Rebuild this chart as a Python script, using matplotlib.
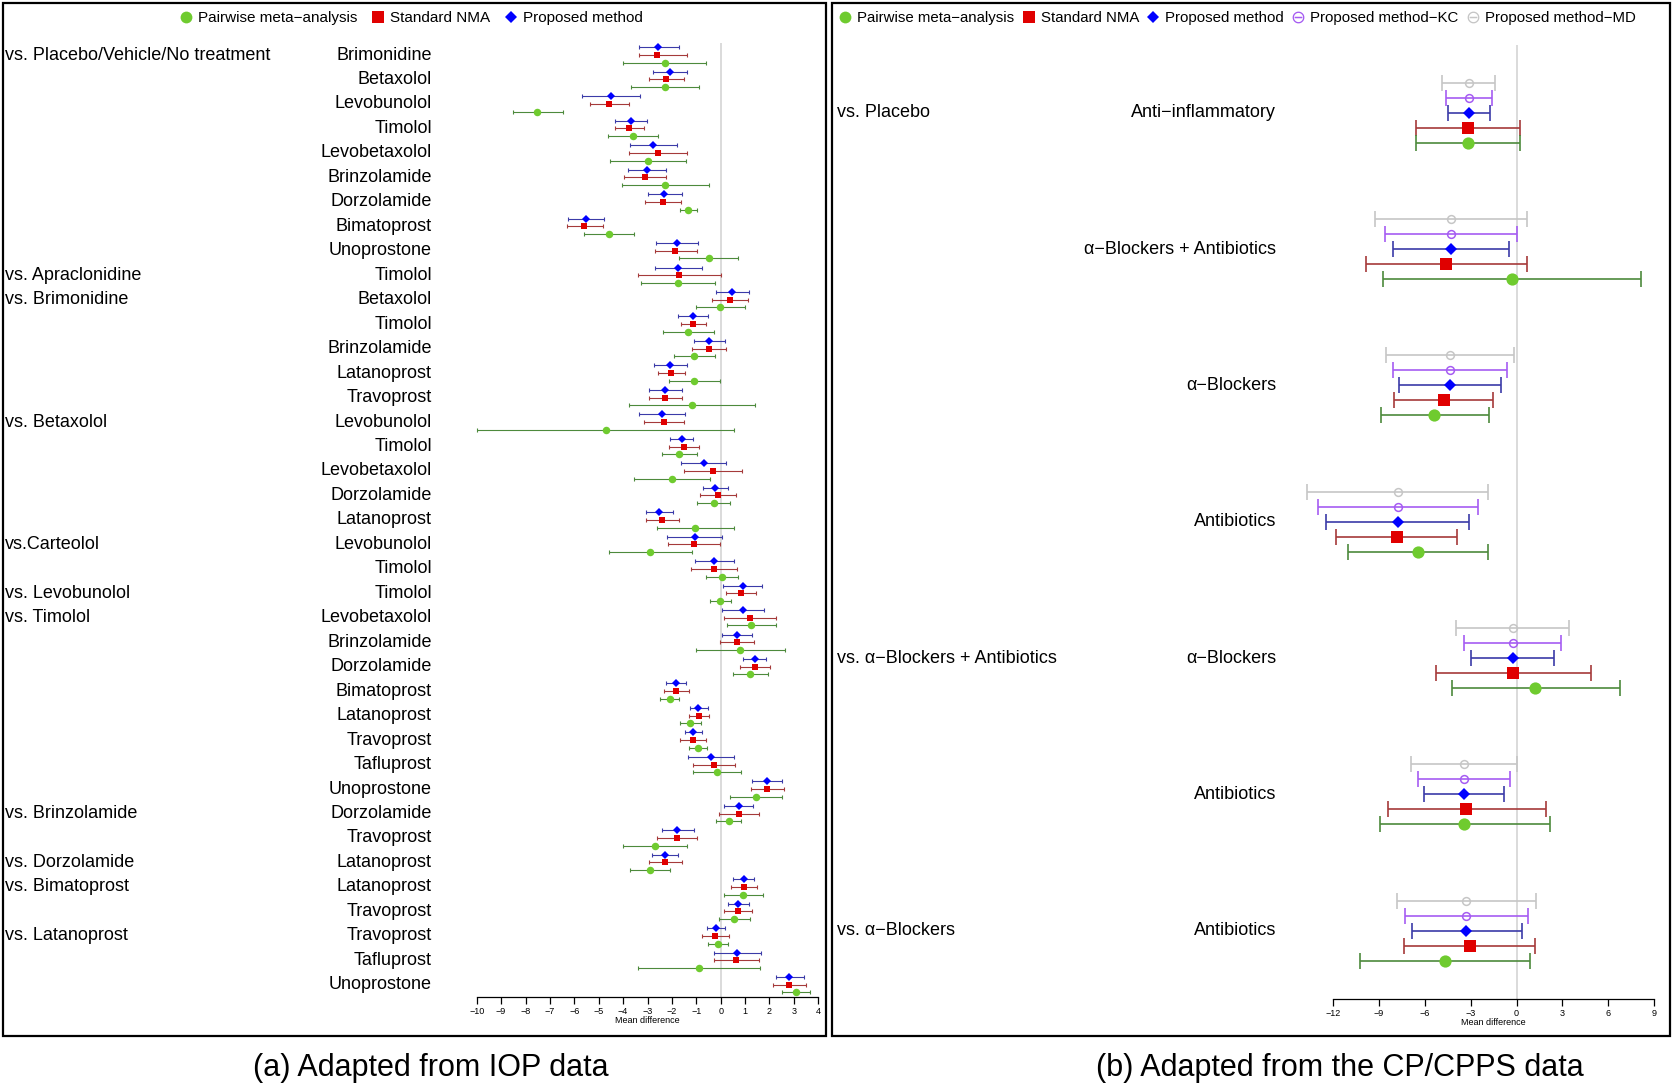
import matplotlib
matplotlib.use("Agg")
import matplotlib.pyplot as plt
from matplotlib.lines import Line2D
from matplotlib.patches import Rectangle
import matplotlib.transforms as mtrans

plt.rcParams['font.family'] = ['Liberation Sans', 'DejaVu Sans']

# ---------------- Panel (a): IOP data ----------------
iop_groups = [
    (0, "vs. Placebo/Vehicle/No treatment"), (9, "vs. Apraclonidine"),
    (10, "vs. Brimonidine"), (15, "vs. Betaxolol"), (20, "vs.Carteolol"),
    (22, "vs. Levobunolol"), (23, "vs. Timolol"), (31, "vs. Brinzolamide"),
    (33, "vs. Dorzolamide"), (34, "vs. Bimatoprost"), (36, "vs. Latanoprost"),
]
iop_treat = [
    "Brimonidine", "Betaxolol", "Levobunolol", "Timolol", "Levobetaxolol",
    "Brinzolamide", "Dorzolamide", "Bimatoprost", "Unoprostone",
    "Timolol",
    "Betaxolol", "Timolol", "Brinzolamide", "Latanoprost", "Travoprost",
    "Levobunolol", "Timolol", "Levobetaxolol", "Dorzolamide", "Latanoprost",
    "Levobunolol", "Timolol",
    "Timolol",
    "Levobetaxolol", "Brinzolamide", "Dorzolamide", "Bimatoprost", "Latanoprost",
    "Travoprost", "Tafluprost", "Unoprostone",
    "Dorzolamide", "Travoprost",
    "Latanoprost",
    "Latanoprost", "Travoprost",
    "Travoprost", "Tafluprost", "Unoprostone",
]
# Proposed method (estimate, lower, upper)
iop_prop = [
    (-2.55, -3.36, -1.72), (-2.09, -2.77, -1.38), (-4.49, -5.68, -3.29), (-3.69, -4.34, -3.01),
    (-2.76, -3.72, -1.79), (-3.02, -3.80, -2.23), (-2.31, -2.99, -1.58), (-5.52, -6.24, -4.80),
    (-1.80, -2.65, -0.91), (-1.73, -2.68, -0.75), (0.48, -0.19, 1.17), (-1.13, -1.75, -0.52),
    (-0.46, -1.09, 0.16), (-2.06, -2.72, -1.39), (-2.27, -2.93, -1.58), (-2.42, -3.36, -1.46),
    (-1.60, -2.06, -1.12), (-0.70, -1.63, 0.23), (-0.23, -0.74, 0.30), (-2.53, -3.07, -1.97),
    (-1.07, -2.19, 0.05), (-0.26, -1.04, 0.55), (0.90, 0.11, 1.71), (0.90, 0.05, 1.76),
    (0.66, 0.05, 1.27), (1.39, 0.93, 1.86), (-1.84, -2.24, -1.43), (-0.92, -1.26, -0.53),
    (-1.12, -1.45, -0.75), (-0.40, -1.35, 0.56), (1.90, 1.27, 2.53), (0.74, 0.15, 1.33),
    (-1.78, -2.42, -1.11), (-2.28, -2.83, -1.75), (0.94, 0.52, 1.38), (0.72, 0.30, 1.16),
    (-0.20, -0.56, 0.19), (0.67, -0.29, 1.65), (2.81, 2.25, 3.42),
]
# Standard NMA
iop_nma = [
    (-2.62, -3.35, -1.39), (-2.25, -2.95, -1.50), (-4.58, -5.34, -3.77), (-3.76, -4.34, -3.14),
    (-2.57, -3.74, -1.39), (-3.10, -3.95, -2.24), (-2.36, -3.09, -1.63), (-5.60, -6.31, -4.84),
    (-1.86, -2.68, -0.98), (-1.69, -3.39, 0.00), (0.38, -0.34, 1.11), (-1.12, -1.64, -0.60),
    (-0.46, -1.17, 0.23), (-2.02, -2.57, -1.46), (-2.27, -2.94, -1.57), (-2.31, -3.13, -1.49),
    (-1.50, -2.10, -0.89), (-0.31, -1.49, 0.87), (-0.10, -0.85, 0.64), (-2.39, -3.06, -1.72),
    (-1.08, -2.14, -0.01), (-0.26, -1.20, 0.68), (0.82, 0.22, 1.45), (1.19, 0.14, 2.27),
    (0.66, -0.04, 1.37), (1.39, 0.81, 2.01), (-1.83, -2.34, -1.31), (-0.90, -1.28, -0.49),
    (-1.13, -1.65, -0.60), (-0.27, -1.13, 0.59), (1.91, 1.23, 2.61), (0.75, -0.05, 1.56),
    (-1.79, -2.60, -0.96), (-2.28, -2.95, -1.60), (0.94, 0.41, 1.49), (0.70, 0.15, 1.27),
    (-0.23, -0.78, 0.33), (0.63, -0.29, 1.57), (2.81, 2.13, 3.51),
]
# Pairwise meta-analysis
iop_pair = [
    (-2.30, -4.00, -0.59), (-2.27, -3.66, -0.89), (-7.51, -8.52, -6.46), (-3.61, -4.63, -2.55),
    (-2.99, -4.54, -1.43), (-2.27, -4.04, -0.49), (-1.33, -1.68, -0.97), (-4.59, -5.60, -3.57),
    (-0.48, -1.69, 0.72), (-1.76, -3.28, -0.23), (-0.03, -1.02, 0.98), (-1.33, -2.38, -0.26),
    (-1.08, -1.93, -0.23), (-1.08, -2.12, -0.01), (-1.19, -3.77, 1.41), (-4.71, -10.0, 0.56),
    (-1.71, -2.42, -0.96), (-1.98, -3.55, -0.44), (-0.29, -0.97, 0.40), (-1.04, -2.62, 0.53),
    (-2.90, -4.56, -1.19), (0.04, -0.60, 0.70), (-0.03, -0.44, 0.42), (1.26, 0.26, 2.27),
    (0.79, -1.02, 2.64), (1.20, 0.51, 1.93), (-2.09, -2.49, -1.69), (-1.24, -1.68, -0.82),
    (-0.93, -1.30, -0.55), (-0.15, -1.13, 0.83), (1.43, 0.38, 2.50), (0.33, -0.19, 0.83),
    (-2.69, -4.00, -1.38), (-2.90, -3.72, -2.06), (0.93, 0.12, 1.73), (0.53, -0.08, 1.19),
    (-0.10, -0.51, 0.31), (-0.90, -3.39, 1.63), (3.07, 2.51, 3.65),
]
iop_ticks = list(range(-10, 5))

# ---------------- Panel (b): CP/CPPS data ----------------
cp_groups = [(0, "vs. Placebo"), (4, "vs. \u03b1\u2212Blockers + Antibiotics"), (6, "vs. \u03b1\u2212Blockers")]
cp_treat = ["Anti\u2212inflammatory", "\u03b1\u2212Blockers + Antibiotics", "\u03b1\u2212Blockers",
            "Antibiotics", "\u03b1\u2212Blockers", "Antibiotics", "Antibiotics"]
cp_md = [(-3.12, -4.85, -1.40), (-4.30, -9.26, 0.68), (-4.34, -8.52, -0.17), (-7.79, -13.69, -1.86),
         (-0.26, -3.97, 3.45), (-3.45, -6.92, 0.02), (-3.28, -7.82, 1.29)]
cp_kc = [(-3.12, -4.65, -1.59), (-4.30, -8.62, 0.04), (-4.34, -8.08, -0.61), (-7.79, -13.01, -2.51),
         (-0.26, -3.45, 2.93), (-3.45, -6.48, -0.41), (-3.28, -7.31, 0.76)]
cp_prop = [(-3.12, -4.50, -1.75), (-4.30, -8.10, -0.48), (-4.34, -7.69, -1.00), (-7.79, -12.45, -3.10),
           (-0.26, -2.99, 2.47), (-3.45, -6.09, -0.81), (-3.28, -6.83, 0.33)]
cp_nma = [(-3.17, -6.57, 0.24), (-4.61, -9.85, 0.68), (-4.78, -8.01, -1.51), (-7.86, -11.81, -3.89),
          (-0.22, -5.26, 4.89), (-3.28, -8.45, 1.92), (-3.08, -7.34, 1.18)]
cp_pair = [(-3.17, -6.57, 0.24), (-0.31, -8.76, 8.14), (-5.39, -8.89, -1.83), (-6.44, -11.03, -1.86),
           (1.24, -4.24, 6.75), (-3.41, -8.97, 2.16), (-4.69, -10.24, 0.87)]
cp_ticks = [-12, -9, -6, -3, 0, 3, 6, 9]

# ---------------- styles ----------------
GREEN, GREEN_BAR = '#6fcb2f', '#4d8a3c'
RED, RED_BAR = '#e00000', '#a53a3a'
BLUE, BLUE_BAR = '#0000ff', '#3b3ba8'
KC = '#a65cf2'
MD = '#c6c6c6'

W, H = 1675, 1092
fig = plt.figure(figsize=(W / 100, H / 100), dpi=100)


def px_axes(x0, x1, y0, y1):
    return fig.add_axes([x0 / W, 1 - y1 / H, (x1 - x0) / W, (y1 - y0) / H])


def draw_series(ax, data, yoff, mcolor, bcolor, marker, ms, capsize, lw, mfc=None, mew=0.0):
    for i, (est, lo, hi) in enumerate(data):
        y = i + yoff
        ax.errorbar([est], [y], xerr=[[est - lo], [hi - est]], fmt='none', ecolor=bcolor,
                    elinewidth=lw, capsize=capsize, capthick=lw, clip_on=False, zorder=2)
        ax.plot([est], [y], marker=marker, ms=ms, color=mcolor,
                mfc=mfc if mfc is not None else mcolor, mec=mcolor, mew=mew,
                linestyle='none', clip_on=False, zorder=3)


def style_axis(ax, ticks, xlim, ylim):
    ax.set_xlim(*xlim)
    ax.set_ylim(*ylim)
    for s in ['top', 'right', 'left']:
        ax.spines[s].set_visible(False)
    ax.spines['bottom'].set_bounds(ticks[0], ticks[-1])
    ax.spines['bottom'].set_linewidth(0.9)
    ax.set_yticks([])
    ax.set_xticks(ticks)
    ax.tick_params(axis='x', direction='out', length=5, width=0.9, labelsize=6.5, pad=2)
    ax.set_xlabel("Mean difference", fontsize=6.5, labelpad=0)
    ax.axvline(0, color='#d8d8d8', lw=1.3, zorder=1)
    ax.patch.set_alpha(0)


# ---- panel a ----
axa = px_axes(476.7, 818.3, 42.8, 997.0)
style_axis(axa, iop_ticks, (-10, 4), (38.5, -0.5))
draw_series(axa, iop_prop, -0.315, BLUE, BLUE_BAR, 'D', 3.6, 1.6, 0.8)
draw_series(axa, iop_nma, 0.0, RED, RED_BAR, 's', 4.8, 1.6, 0.8)
draw_series(axa, iop_pair, 0.315, GREEN, GREEN_BAR, 'o', 5.4, 1.6, 0.8)

ta = mtrans.blended_transform_factory(fig.transFigure, axa.transData)
for i, name in enumerate(iop_treat):
    axa.text(432 / W, i, name, transform=ta, ha='right', va='center', fontsize=13)
for i, name in iop_groups:
    axa.text(5 / W, i, name, transform=ta, ha='left', va='center', fontsize=13)

# ---- panel b ----
axb = px_axes(1333.3, 1654.0, 44.5, 999.0)
style_axis(axb, cp_ticks, (-12, 9), (6.5, -0.5))
step = 0.11
draw_series(axb, cp_md, -2 * step, MD, MD, 'o', 5.6, 5.5, 1.2, mfc='none', mew=1.1)
draw_series(axb, cp_kc, -1 * step, KC, KC, 'o', 5.6, 5.5, 1.2, mfc='none', mew=1.1)
draw_series(axb, cp_prop, 0.0, BLUE, BLUE_BAR, 'D', 6.5, 5.5, 1.2)
draw_series(axb, cp_nma, 1 * step, RED, RED_BAR, 's', 8.2, 5.5, 1.2)
draw_series(axb, cp_pair, 2 * step, GREEN, GREEN_BAR, 'o', 8.8, 5.5, 1.2)

tb = mtrans.blended_transform_factory(fig.transFigure, axb.transData)
for i, name in enumerate(cp_treat):
    axb.text(1276 / W, i, name, transform=tb, ha='right', va='center', fontsize=13)
for i, name in cp_groups:
    axb.text(837 / W, i, name, transform=tb, ha='left', va='center', fontsize=13)

# ---- legends ----
def handle(marker, color, ms, mfc=None, mew=0.0):
    return Line2D([], [], marker=marker, color=color, linestyle='none', ms=ms,
                  mfc=mfc if mfc is not None else color, mew=mew)

ha_ = [handle('o', GREEN, 8.5), handle('s', RED, 8), handle('D', BLUE, 6.5)]
la_ = ["Pairwise meta\u2212analysis", "Standard NMA", "Proposed method"]
fig.legend(ha_, la_, loc='center', bbox_to_anchor=(411 / W, 1 - 18 / H), ncol=3,
           frameon=False, fontsize=11, handlelength=0.9, handletextpad=0.35,
           columnspacing=0.9, borderpad=0)

hb_ = [handle('o', GREEN, 8.5), handle('s', RED, 8), handle('D', BLUE, 6.5),
       handle(r'$\ominus$', KC, 8.5), handle(r'$\ominus$', MD, 8.5)]
lb_ = ["Pairwise meta\u2212analysis", "Standard NMA", "Proposed method",
       "Proposed method\u2212KC", "Proposed method\u2212MD"]
fig.legend(hb_, lb_, loc='center', bbox_to_anchor=(1237 / W, 1 - 18 / H), ncol=5,
           frameon=False, fontsize=10.8, handlelength=0.9, handletextpad=0.35,
           columnspacing=0.5, borderpad=0)

# ---- panel frames ----
for x0, x1 in [(3, 826), (832, 1670)]:
    fig.add_artist(Rectangle((x0 / W, 1 - 1036 / H), (x1 - x0) / W, (1036 - 3) / H,
                             transform=fig.transFigure, fill=False, ec='black', lw=1.6))

# ---- captions ----
fig.text(431 / W, 1 - 1068 / H, "(a) Adapted from IOP data", ha='center', va='center', fontsize=22)
fig.text(1340 / W, 1 - 1068 / H, "(b) Adapted from the CP/CPPS data", ha='center', va='center', fontsize=22)

fig.savefig("out.png", dpi=100)
